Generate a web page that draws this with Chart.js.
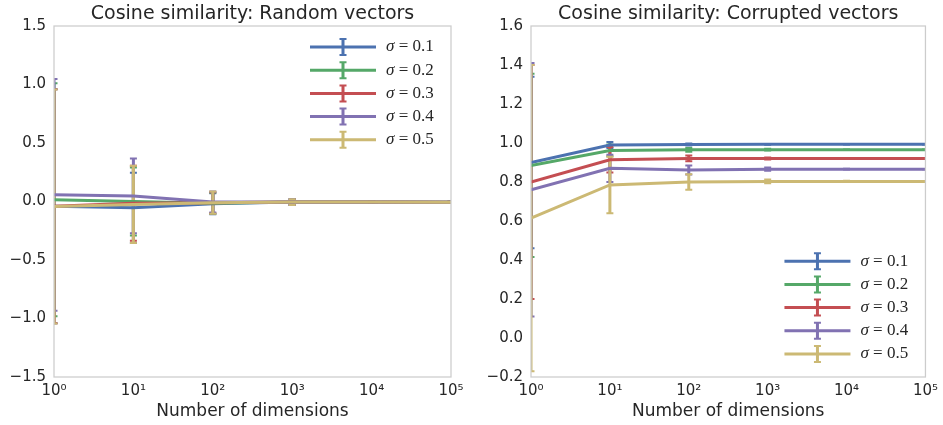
<!DOCTYPE html>
<html>
<head>
<meta charset="utf-8">
<title>Cosine similarity</title>
<script src="https://cdn.jsdelivr.net/npm/chart.js@4.4.1/dist/chart.umd.min.js"></script>
<style>
  body { margin: 0; background: #fff; }
  .panel { position: absolute; top: 0; }
</style>
</head>
<body>
<canvas id="random-chart" class="panel" width="470" height="425" style="left:0"></canvas>
<canvas id="corrupted-chart" class="panel" width="473" height="425" style="left:470px"></canvas>
<script>
const dims = [1, 10, 100, 1000, 10000, 100000];
const sigmas = [0.1, 0.2, 0.3, 0.4, 0.5];
const colors = ["#4C72B0", "#55A868", "#C44E52", "#8172B2", "#CCB974"];
const xTicks = [1, 10, 100, 1000, 10000, 100000];
const randomTicks = [-1.5, -1.0, -0.5, 0.0, 0.5, 1.0, 1.5];
const corruptedTicks = [-0.2, 0.0, 0.2, 0.4, 0.6, 0.8, 1.0, 1.2, 1.4, 1.6];

// mean similarity per sigma (rows) and dimension (columns)
const randomMean = [
  [-0.040, -0.054, -0.020, -0.005, -0.005, -0.006],
  [0.015, 0.000, -0.015, -0.005, -0.005, -0.006],
  [-0.040, -0.015, -0.010, -0.005, -0.005, -0.006],
  [0.057, 0.048, -0.005, -0.004, -0.005, -0.006],
  [-0.043, -0.025, -0.010, -0.005, -0.005, -0.006],
];
const randomErr = [
  [1.00, 0.30, 0.09, 0.025, 0.008, 0.003],
  [0.995, 0.29, 0.09, 0.025, 0.008, 0.003],
  [1.00, 0.32, 0.09, 0.025, 0.008, 0.003],
  [0.99, 0.32, 0.09, 0.025, 0.008, 0.003],
  [1.00, 0.33, 0.095, 0.025, 0.008, 0.003],
];
const corruptedMean = [
  [0.900, 0.990, 0.992, 0.993, 0.993, 0.993],
  [0.885, 0.962, 0.965, 0.966, 0.966, 0.966],
  [0.800, 0.914, 0.921, 0.921, 0.921, 0.921],
  [0.760, 0.870, 0.862, 0.866, 0.866, 0.866],
  [0.615, 0.785, 0.800, 0.803, 0.803, 0.803],
];
const corruptedErr = [
  [0.44, 0.015, 0.005, 0.002, 0.001, 0.0005],
  [0.47, 0.030, 0.010, 0.004, 0.001, 0.0005],
  [0.60, 0.065, 0.015, 0.005, 0.002, 0.0005],
  [0.65, 0.070, 0.023, 0.008, 0.002, 0.0005],
  [0.785, 0.145, 0.040, 0.010, 0.003, 0.001],
];

Chart.defaults.font.family = "'DejaVu Sans', sans-serif";
Chart.defaults.color = "#262626";

const sup = ["⁰", "¹", "²", "³", "⁴", "⁵"];
const fmt = (v) => v.toFixed(1).replace("-", "\u2212");

// vertical error bars + frame + legend with errorbar glyph
const errorBars = {
  id: "errorBars",
  beforeDatasetsDraw(chart) {
    const { ctx, chartArea: a, scales: { y } } = chart;
    ctx.save();
    ctx.beginPath();
    ctx.rect(a.left, a.top, a.right - a.left, a.bottom - a.top);
    ctx.clip();
    chart.data.datasets.forEach((ds, i) => {
      const meta = chart.getDatasetMeta(i);
      ctx.strokeStyle = ds.borderColor;
      meta.data.forEach((pt, j) => {
        const v = ds.data[j].y, e = ds.errors[j];
        const top = y.getPixelForValue(v + e);
        const bot = y.getPixelForValue(v - e);
        ctx.lineWidth = 3;
        ctx.beginPath();
        ctx.moveTo(pt.x, top);
        ctx.lineTo(pt.x, bot);
        ctx.stroke();
        ctx.lineWidth = 2;
        ctx.beginPath();
        ctx.moveTo(pt.x - 3.5, top); ctx.lineTo(pt.x + 3.5, top);
        ctx.moveTo(pt.x - 3.5, bot); ctx.lineTo(pt.x + 3.5, bot);
        ctx.stroke();
      });
    });
    ctx.restore();
  },
  afterDatasetsDraw(chart, args, opts) {
    const { ctx, chartArea: a } = chart;
    ctx.save();
    ctx.strokeStyle = "#cccccc";
    ctx.lineWidth = 1.25;
    ctx.strokeRect(a.left, a.top, a.right - a.left, a.bottom - a.top);

    const sets = chart.data.datasets;
    const rowH = 23.2;
    const x0 = a.right - 141;
    const y0 = opts.anchor === "top" ? a.top + 21 : a.bottom - 23 - (sets.length - 1) * rowH;
    sets.forEach((ds, i) => {
      const yy = y0 + i * rowH;
      const xm = x0 + 33;
      ctx.strokeStyle = ds.borderColor;
      ctx.lineWidth = 3;
      ctx.beginPath();
      ctx.moveTo(x0, yy); ctx.lineTo(x0 + 66, yy);
      ctx.moveTo(xm, yy - 8); ctx.lineTo(xm, yy + 8);
      ctx.stroke();
      ctx.lineWidth = 2;
      ctx.beginPath();
      ctx.moveTo(xm - 3.5, yy - 8); ctx.lineTo(xm + 3.5, yy - 8);
      ctx.moveTo(xm - 3.5, yy + 8); ctx.lineTo(xm + 3.5, yy + 8);
      ctx.stroke();

      ctx.fillStyle = "#262626";
      ctx.textBaseline = "middle";
      ctx.textAlign = "left";
      ctx.font = "italic 17px 'Liberation Serif'";
      ctx.fillText("σ", x0 + 76, yy);
      const w = ctx.measureText("σ").width;
      ctx.font = "17px 'Liberation Serif'";
      ctx.fillText(" = " + ds.label, x0 + 76 + w, yy);
    });
    ctx.restore();
  }
};

function makeChart(id, title, mean, err, yTicks, yWidth, padRight, anchor) {
  const datasets = sigmas.map((s, i) => ({
    label: s.toFixed(1),
    data: dims.map((d, j) => ({ x: d, y: mean[i][j] })),
    errors: err[i],
    borderColor: colors[i],
    backgroundColor: colors[i],
    borderWidth: 3,
    pointRadius: 0,
    tension: 0,
    clip: 0,
    order: sigmas.length - 1 - i,
  }));

  return new Chart(id, {
    type: "line",
    data: { datasets },
    options: {
      responsive: false,
      animation: false,
      devicePixelRatio: 1,
      layout: { padding: { left: 0, right: padRight, top: 0, bottom: 0 } },
      plugins: {
        legend: { display: false },
        tooltip: { enabled: false },
        title: {
          display: true,
          text: title,
          fullSize: false,
          color: "#262626",
          font: { size: 19, weight: "normal" },
          padding: { top: 3, bottom: 0.2 },
        },
        errorBars: { anchor },
      },
      scales: {
        x: {
          type: "logarithmic",
          min: xTicks[0],
          max: xTicks[xTicks.length - 1],
          grid: { display: false, drawTicks: false },
          border: { display: false },
          afterBuildTicks: (s) => { s.ticks = xTicks.map((v) => ({ value: v })); },
          afterFit: (s) => { s.height = 48; },
          ticks: {
            autoSkip: false,
            maxRotation: 0,
            padding: 5,
            font: { size: 15 },
            callback: (v) => "10" + sup[Math.round(Math.log10(v))],
          },
          title: {
            display: true,
            text: "Number of dimensions",
            font: { size: 17 },
            padding: { top: 0, bottom: 3 },
          },
        },
        y: {
          min: yTicks[0],
          max: yTicks[yTicks.length - 1],
          grid: { display: false, drawTicks: false },
          border: { display: false },
          afterBuildTicks: (s) => { s.ticks = yTicks.map((v) => ({ value: v })); },
          afterFit: (s) => { s.width = yWidth; },
          ticks: {
            padding: 8,
            font: { size: 15 },
            callback: (v) => fmt(v),
          },
        },
      },
    },
    plugins: [errorBars],
  });
}

makeChart("random-chart", "Cosine similarity: Random vectors",
  randomMean, randomErr, randomTicks, 54, 19, "top");
makeChart("corrupted-chart", "Cosine similarity: Corrupted vectors",
  corruptedMean, corruptedErr, corruptedTicks, 61, 14, "bottom");
</script>
</body>
</html>
